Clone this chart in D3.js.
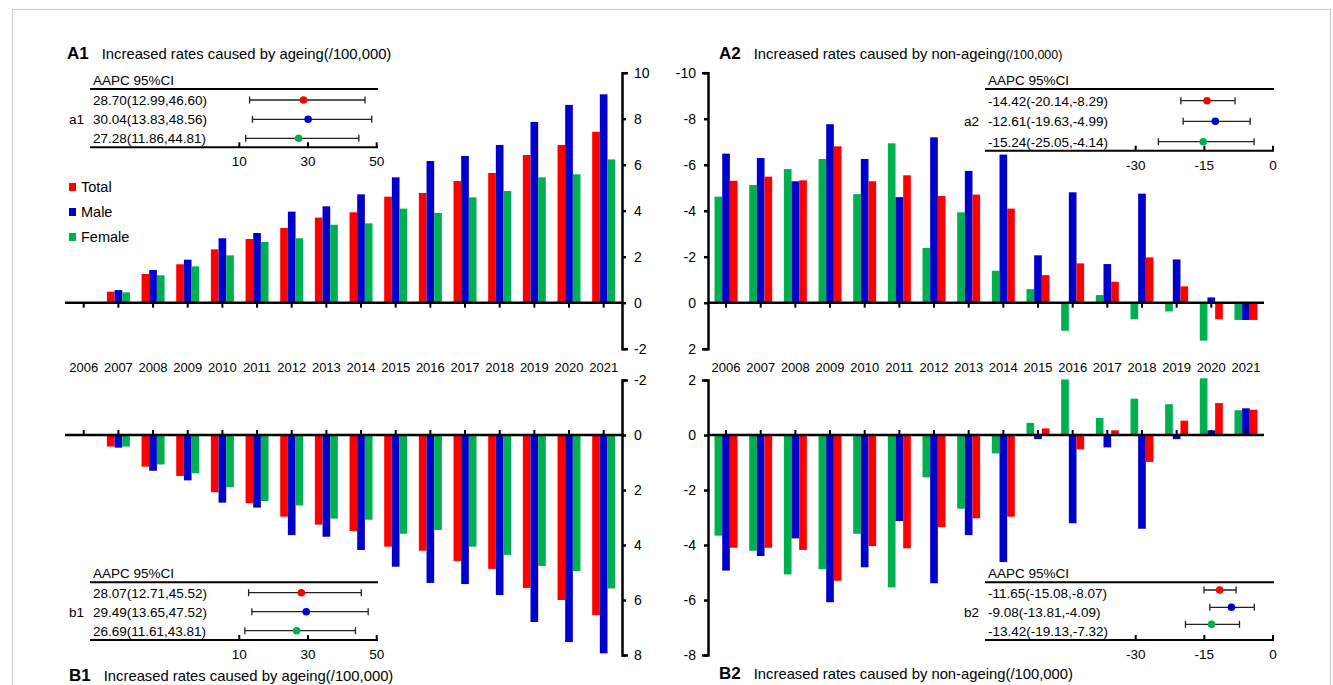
<!DOCTYPE html>
<html>
<head>
<meta charset="utf-8">
<script src="https://cdn.jsdelivr.net/npm/d3@7"></script>
<style>
body { margin: 0; background: #fff; }
svg { font-family: "Liberation Sans", Arial, sans-serif; }
</style>
</head>
<body>
<svg id="chart" width="1333" height="685"></svg>
<script>
// ---- data ----
var years = ["2006", "2007", "2008", "2009", "2010", "2011", "2012", "2013",
             "2014", "2015", "2016", "2017", "2018", "2019", "2020", "2021"];
var seriesNames = ["Total", "Male", "Female"];

// A1: increased rates caused by ageing
var a1Total  = [0, 0.48, 1.25, 1.67, 2.32, 2.77, 3.25, 3.70, 3.93, 4.61, 4.77, 5.29, 5.64, 6.42, 6.86, 7.43];
var a1Male   = [0, 0.55, 1.42, 1.87, 2.80, 3.03, 3.96, 4.19, 4.71, 5.45, 6.16, 6.38, 6.86, 7.86, 8.60, 9.06];
var a1Female = [0, 0.45, 1.19, 1.58, 2.06, 2.64, 2.80, 3.39, 3.45, 4.09, 3.90, 4.58, 4.86, 5.45, 5.58, 6.23];

// A2: increased rates caused by non-ageing
var a2Total  = [-5.30, -5.48, -5.32, -6.80, -5.28, -5.54, -4.64, -4.70, -4.09, -1.20, -1.71, -0.91, -1.97, -0.71, 0.72, 0.75];
var a2Male   = [-6.48, -6.29, -5.28, -7.76, -6.25, -4.59, -7.19, -5.73, -6.44, -2.06, -4.80, -1.68, -4.74, -1.88, -0.23, 0.75];
var a2Female = [-4.61, -5.12, -5.81, -6.25, -4.72, -6.93, -2.38, -3.93, -1.39, -0.59, 1.22, -0.33, 0.72, 0.38, 1.65, 0.75];

// B1: increased rates caused by ageing
var b1Total  = [0, 0.42, 1.15, 1.49, 2.08, 2.48, 2.97, 3.26, 3.49, 4.06, 4.21, 4.58, 4.87, 5.56, 6.00, 6.55];
var b1Male   = [0, 0.46, 1.30, 1.65, 2.46, 2.64, 3.64, 3.70, 4.18, 4.79, 5.38, 5.42, 5.82, 6.80, 7.53, 7.94];
var b1Female = [0, 0.42, 1.07, 1.39, 1.90, 2.40, 2.56, 3.04, 3.08, 3.59, 3.45, 4.06, 4.36, 4.76, 4.95, 5.58];

// B2: increased rates caused by non-ageing
var b2Total  = [-4.10, -4.10, -4.18, -5.30, -4.04, -4.12, -3.35, -3.03, -2.97, 0.24, -0.52, 0.17, -0.98, 0.52, 1.16, 0.92];
var b2Male   = [-4.93, -4.40, -3.76, -6.08, -4.81, -3.13, -5.39, -3.64, -4.62, -0.15, -3.21, -0.45, -3.41, -0.15, 0.17, 0.97];
var b2Female = [-3.66, -4.21, -5.07, -4.88, -3.59, -5.54, -1.54, -2.68, -0.67, 0.44, 2.02, 0.62, 1.32, 1.12, 2.06, 0.90];

// AAPC (95% CI) rows: Total, Male, Female
var a1Aapc = [28.70, 30.04, 27.28], a1Low = [12.99, 13.83, 11.86], a1High = [46.60, 48.56, 44.81];
var a2Aapc = [-14.42, -12.61, -15.24], a2Low = [-20.14, -19.63, -25.05], a2High = [-8.29, -4.99, -4.14];
var b1Aapc = [28.07, 29.49, 26.69], b1Low = [12.71, 13.65, 11.61], b1High = [45.52, 47.52, 43.81];
var b2Aapc = [-11.65, -9.08, -13.42], b2Low = [-15.08, -13.81, -19.13], b2High = [-8.07, -4.09, -7.32];

var ageTicks = [10, 30, 50];
var nonAgeTicks = [-30, -15, 0];

var color = d3.scaleOrdinal()
    .domain(seriesNames)
    .range(["#ff0000", "#0000cc", "#00b050"]);

var svg = d3.select("#chart");

// light frame round the figure
svg.append("rect")
    .attr("x", 12.5).attr("y", 9.5)
    .attr("width", 1318).attr("height", 700)
    .attr("fill", "none")
    .attr("stroke", "#c8c8c8");

function fmt(v) { return v.toFixed(2); }

// one bar panel
function drawPanel(p) {
    var g = svg.append("g");

    var x = d3.scaleBand()
        .domain(years)
        .range(p.xRange)
        .paddingInner(0.337)
        .paddingOuter(0.1685);

    var xs = d3.scaleBand()
        .domain(p.order)
        .range([0, x.bandwidth()]);

    var y = d3.scaleLinear()
        .domain(p.yDomain)
        .range(p.yRange);

    var rows = years.map(function (yr, i) {
        return { year: yr, values: p.order.map(function (s) { return { key: s, v: p.vals[s][i] }; }) };
    });

    g.append("g")
        .selectAll("g")
        .data(rows)
        .enter().append("g")
        .attr("transform", function (d) { return "translate(" + x(d.year) + ",0)"; })
        .selectAll("rect")
        .data(function (d) { return d.values.filter(function (e) { return e.v !== 0; }); })
        .enter().append("rect")
        .attr("x", function (d) { return xs(d.key); })
        .attr("width", xs.bandwidth())
        .attr("y", function (d) { return Math.min(y(0), y(d.v)); })
        .attr("height", function (d) { return Math.abs(y(d.v) - y(0)); })
        .attr("fill", function (d) { return color(d.key); });

    // zero line with year ticks
    g.append("line")
        .attr("x1", p.zeroX[0]).attr("x2", p.zeroX[1])
        .attr("y1", y(0)).attr("y2", y(0))
        .attr("stroke", "#000")
        .attr("stroke-width", 2.5);

    g.append("g")
        .selectAll("line")
        .data(years)
        .enter().append("line")
        .attr("x1", function (d) { return x(d) + x.bandwidth() / 2; })
        .attr("x2", function (d) { return x(d) + x.bandwidth() / 2; })
        .attr("y1", y(0))
        .attr("y2", y(0) + p.tickDir * 5)
        .attr("stroke", "#000")
        .attr("stroke-width", 2);

    var axis = (p.side === "right" ? d3.axisRight(y) : d3.axisLeft(y))
        .tickValues(p.ticks)
        .tickSize(4)
        .tickSizeOuter(6)
        .tickPadding(8)
        .tickFormat(function (d) { return String(d); });

    var ax = g.append("g")
        .attr("transform", "translate(" + p.axisX + ",0)")
        .call(axis);
    ax.select(".domain").attr("stroke-width", 2.5);
    ax.selectAll(".tick line").attr("stroke-width", 2.5);
    ax.selectAll("text")
        .attr("font-size", 14)
        .attr("font-family", "Liberation Sans, Arial, sans-serif")
        .attr("fill", "#000");

    return x;
}

var xA1 = drawPanel({
    vals: { Total: a1Total, Male: a1Male, Female: a1Female },
    order: ["Total", "Male", "Female"],
    xRange: [66.4, 621], zeroX: [65, 622],
    yDomain: [-2, 10], yRange: [348.7, 72.7],
    ticks: [-2, 0, 2, 4, 6, 8, 10],
    axisX: 622, side: "right", tickDir: 1
});

drawPanel({
    vals: { Total: b1Total, Male: b1Male, Female: b1Female },
    order: ["Total", "Male", "Female"],
    xRange: [66.4, 621], zeroX: [65, 622],
    yDomain: [-2, 8], yRange: [380, 655],
    ticks: [-2, 0, 2, 4, 6, 8],
    axisX: 622, side: "right", tickDir: -1
});

var xA2 = drawPanel({
    vals: { Total: a2Total, Male: a2Male, Female: a2Female },
    order: ["Female", "Male", "Total"],
    xRange: [708.7, 1263.3], zeroX: [708, 1264],
    yDomain: [-10, 2], yRange: [72.7, 348.7],
    ticks: [-10, -8, -6, -4, -2, 0, 2],
    axisX: 708, side: "left", tickDir: 1
});

drawPanel({
    vals: { Total: b2Total, Male: b2Male, Female: b2Female },
    order: ["Female", "Male", "Total"],
    xRange: [708.7, 1263.3], zeroX: [708, 1264],
    yDomain: [2, -8], yRange: [380, 655],
    ticks: [2, 0, -2, -4, -6, -8],
    axisX: 708, side: "left", tickDir: -1
});

// year labels between the rows
[xA1, xA2].forEach(function (x) {
    svg.append("g")
        .selectAll("text")
        .data(years)
        .enter().append("text")
        .attr("x", function (d) { return x(d) + x.bandwidth() / 2; })
        .attr("y", 372)
        .attr("text-anchor", "middle")
        .attr("font-size", 13)
        .style("font-family", "'Liberation Sans Narrow', 'Liberation Sans', Arial, sans-serif")
        .text(function (d) { return d; });
});

// legend
var legend = svg.append("g")
    .selectAll("g")
    .data(seriesNames)
    .enter().append("g")
    .attr("transform", function (d, i) { return "translate(69," + (187 + i * 25) + ")"; });

legend.append("rect")
    .attr("y", -4)
    .attr("width", 7)
    .attr("height", 8)
    .attr("fill", color);

legend.append("text")
    .attr("x", 12)
    .attr("dy", "0.35em")
    .attr("font-size", 14.5)
    .text(function (d) { return d; });

// panel titles
function title(tag, txt, small, x, y) {
    var t = svg.append("text").attr("x", x).attr("y", y);
    t.append("tspan").attr("font-weight", "bold").attr("font-size", 17).text(tag);
    t.append("tspan").attr("dx", 13).attr("font-size", 14.8).text(txt);
    t.append("tspan").attr("font-size", small ? 12.5 : 14.8).text("(/100,000)");
}
title("A1", "Increased rates caused by ageing", false, 67, 59);
title("A2", "Increased rates caused by non-ageing", true, 719, 59);
title("B1", "Increased rates caused by ageing", false, 69, 681);
title("B2", "Increased rates caused by non-ageing", false, 719, 679);

// AAPC inset (forest plot)
function drawInset(p) {
    var g = svg.append("g");
    var x = d3.scaleLinear().domain(p.domain).range(p.range);
    var dotY = p.dotY || p.rowY;

    g.append("text")
        .attr("x", p.lineX[0] + 3).attr("y", p.top - 4)
        .attr("font-size", 13.5)
        .text("AAPC 95%CI");

    g.append("line")
        .attr("x1", p.lineX[0]).attr("x2", p.lineX[1])
        .attr("y1", p.top).attr("y2", p.top)
        .attr("stroke", "#000").attr("stroke-width", 2);

    g.append("line")
        .attr("x1", p.lineX[0]).attr("x2", p.lineX[1])
        .attr("y1", p.bottom).attr("y2", p.bottom)
        .attr("stroke", "#000").attr("stroke-width", 2);

    g.append("g")
        .selectAll("line")
        .data(p.ticks)
        .enter().append("line")
        .attr("x1", x).attr("x2", x)
        .attr("y1", p.bottom).attr("y2", p.bottom - 5)
        .attr("stroke", "#000").attr("stroke-width", 2);

    g.append("g")
        .selectAll("text")
        .data(p.ticks)
        .enter().append("text")
        .attr("x", x)
        .attr("y", p.bottom + 19)
        .attr("text-anchor", "middle")
        .attr("font-size", 13.5)
        .text(function (d) { return String(d); });

    var rows = seriesNames.map(function (s, i) {
        return { key: s, est: p.est[i], lo: p.lo[i], hi: p.hi[i], y: p.rowY[i], dy: dotY[i] };
    });

    var r = g.append("g")
        .selectAll("g")
        .data(rows)
        .enter().append("g");

    r.append("text")
        .attr("x", p.lineX[0] + 3)
        .attr("y", function (d) { return d.y; })
        .attr("dy", "0.36em")
        .attr("font-size", 13.5)
        .text(function (d) { return fmt(d.est) + "(" + fmt(d.lo) + "," + fmt(d.hi) + ")"; });

    r.append("line")
        .attr("x1", function (d) { return x(d.lo); })
        .attr("x2", function (d) { return x(d.hi); })
        .attr("y1", function (d) { return d.dy; })
        .attr("y2", function (d) { return d.dy; })
        .attr("stroke", "#222").attr("stroke-width", 1.3);

    ["lo", "hi"].forEach(function (k) {
        r.append("line")
            .attr("x1", function (d) { return x(d[k]); })
            .attr("x2", function (d) { return x(d[k]); })
            .attr("y1", function (d) { return d.dy - 3.5; })
            .attr("y2", function (d) { return d.dy + 3.5; })
            .attr("stroke", "#222").attr("stroke-width", 1.3);
    });

    r.append("circle")
        .attr("cx", function (d) { return x(d.est); })
        .attr("cy", function (d) { return d.dy; })
        .attr("r", 3.8)
        .attr("fill", function (d) { return color(d.key); });

    g.append("text")
        .attr("x", p.lineX[0] - 6)
        .attr("y", p.rowY[1])
        .attr("dy", "0.36em")
        .attr("text-anchor", "end")
        .attr("font-size", 13.5)
        .text(p.label);
}

drawInset({
    label: "a1", est: a1Aapc, lo: a1Low, hi: a1High, ticks: ageTicks,
    domain: [10, 50], range: [239.3, 376.7], lineX: [90, 378],
    top: 89, bottom: 147.3, rowY: [100, 119.3, 138.3]
});
drawInset({
    label: "a2", est: a2Aapc, lo: a2Low, hi: a2High, ticks: nonAgeTicks,
    domain: [-30, 0], range: [1135.7, 1273], lineX: [985, 1274],
    top: 89, bottom: 150.7, rowY: [100.7, 121.3, 141.7]
});
drawInset({
    label: "b1", est: b1Aapc, lo: b1Low, hi: b1High, ticks: ageTicks,
    domain: [10, 50], range: [239.3, 376.7], lineX: [90, 378],
    top: 582.3, bottom: 640, rowY: [592.7, 611.7, 630.7]
});
drawInset({
    label: "b2", est: b2Aapc, lo: b2Low, hi: b2High, ticks: nonAgeTicks,
    domain: [-30, 0], range: [1135.7, 1273], lineX: [985, 1274],
    top: 582.3, bottom: 640, rowY: [592.7, 611.7, 630.7], dotY: [590, 607.3, 624.3]
});
</script>
</body>
</html>
